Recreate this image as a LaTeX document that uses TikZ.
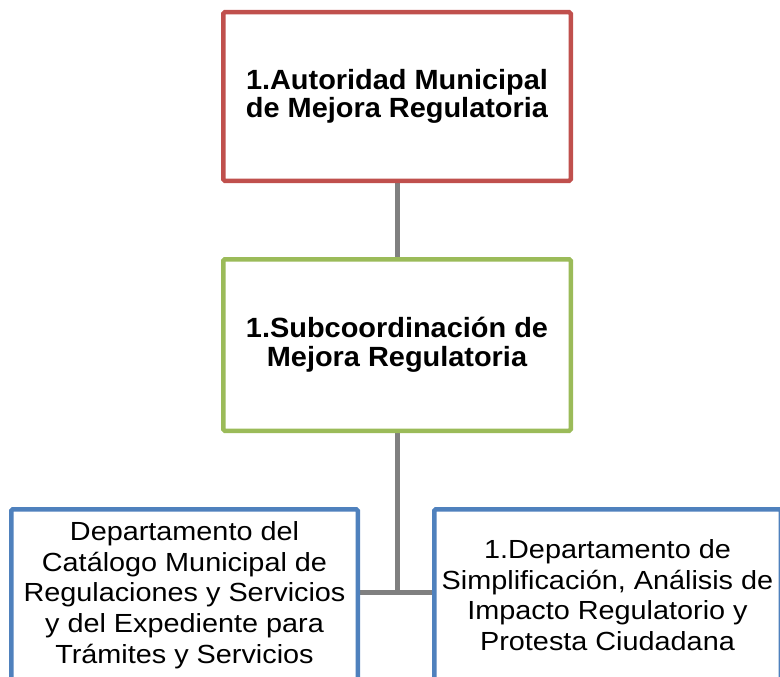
\documentclass[tikz,border=0pt]{standalone}
\usepackage{fontspec}
\setmainfont{Liberation Sans}
\newfontfamily\hdfont[FakeStretch=1.04]{Liberation Sans}
\newfontfamily\bdfont[FakeStretch=1.10]{Liberation Sans}
\usetikzlibrary{backgrounds}
\definecolor{redb}{HTML}{C0504D}
\definecolor{greenb}{HTML}{9BBB59}
\definecolor{blueb}{HTML}{4F81BD}
\definecolor{connc}{HTML}{808080}
\tikzset{
  box/.style={draw, line width=4.5pt, rounded corners=1.5pt, fill=white, align=center, inner sep=0pt},
  headbox/.style={box, font=\hdfont\bfseries\fontsize{27.8}{27.5}\selectfont},
  deptbox/.style={box, draw=blueb, minimum width=346.5pt, minimum height=171.5pt, font=\bdfont\fontsize{26.2}{30.7}\selectfont},
  conn/.style={draw=connc, line width=5pt}
}
\begin{document}
\begin{tikzpicture}[x=1pt,y=-1pt]
\useasboundingbox (0,0) rectangle (780,677);
\begin{scope}
\clip (0,0) rectangle (780,677);
\node[headbox, draw=redb, minimum width=347.5pt, minimum height=168.5pt] (auth) at (397,96.5)
  {1.Autoridad Municipal\\de Mejora Regulatoria};
\node[headbox, draw=greenb, minimum width=347.5pt, minimum height=171.5pt, font=\hdfont\bfseries\fontsize{27.8}{29}\selectfont] (sub) at (397,345)
  {1.Subcoordinación de\\Mejora Regulatoria};
\node[deptbox] (catal) at (184.5,595)
  {Departamento del\\Catálogo Municipal de\\Regulaciones y Servicios\\y del Expediente para\\Trámites y Servicios};
\node[deptbox] (simpl) at (607.5,595)
  {1.Departamento de\\Simplificación, Análisis de\\Impacto Regulatorio y\\Protesta Ciudadana};
\coordinate (junc) at (397,592);
\begin{scope}[on background layer]
\draw[conn] (auth.south) -- (sub.north);
\draw[conn] (sub.south) -- (junc);
\draw[conn] (catal.east |- junc) -- (simpl.west |- junc);
\end{scope}
\end{scope}
\end{tikzpicture}
\end{document}
